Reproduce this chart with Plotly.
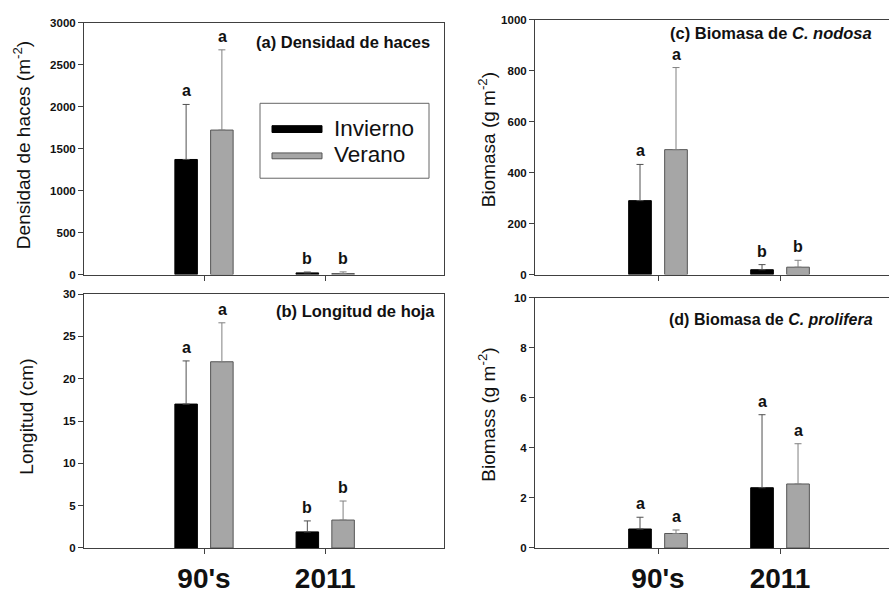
import plotly.graph_objects as go

W, H = 889, 594

categories = ["90's", "2011"]
series_names = ["Invierno", "Verano"]

# (a) Densidad de haces (m-2)
dens_inv = [1370, 20]
dens_inv_err = [655, 10]
dens_ver = [1720, 12]
dens_ver_err = [955, 20]
dens_letters_inv = ["a", "b"]
dens_letters_ver = ["a", "b"]

# (b) Longitud de hoja (cm)
long_inv = [17.0, 1.9]
long_inv_err = [5.1, 1.3]
long_ver = [22.0, 3.3]
long_ver_err = [4.6, 2.25]
long_letters_inv = ["a", "b"]
long_letters_ver = ["a", "b"]

# (c) Biomasa de C. nodosa (g m-2)
nod_inv = [290, 19]
nod_inv_err = [142, 20]
nod_ver = [490, 29]
nod_ver_err = [322, 27]
nod_letters_inv = ["a", "b"]
nod_letters_ver = ["a", "b"]

# (d) Biomasa de C. prolifera (g m-2)
pro_inv = [0.76, 2.41]
pro_inv_err = [0.47, 2.92]
pro_ver = [0.58, 2.56]
pro_ver_err = [0.14, 1.61]
pro_letters_inv = ["a", "a"]
pro_letters_ver = ["a", "a"]

FONT = "Liberation Sans, Arial, sans-serif"
BLACK = "#000000"
GRAY = "#a6a6a6"
AXC = "#404040"


def px(x):
    return x / W


def py(y):
    return 1 - y / H


fig = go.Figure()

panels = [
    ("x", "y", dens_inv, dens_inv_err, dens_ver, dens_ver_err, dens_letters_inv, dens_letters_ver),
    ("x2", "y2", long_inv, long_inv_err, long_ver, long_ver_err, long_letters_inv, long_letters_ver),
    ("x3", "y3", nod_inv, nod_inv_err, nod_ver, nod_ver_err, nod_letters_inv, nod_letters_ver),
    ("x4", "y4", pro_inv, pro_inv_err, pro_ver, pro_ver_err, pro_letters_inv, pro_letters_ver),
]

annotations = []
for xa, ya, vi, ei, vv, ev, li, lv in panels:
    fig.add_trace(go.Bar(
        x=categories, y=vi, name=series_names[0], xaxis=xa, yaxis=ya,
        marker=dict(color=BLACK, line=dict(color="#000000", width=1)),
        error_y=dict(type="data", array=ei, symmetric=False, arrayminus=[0] * len(ei),
                     color="#505050", thickness=1, width=3.5),
        showlegend=False, offsetgroup="inv",
    ))
    fig.add_trace(go.Bar(
        x=categories, y=vv, name=series_names[1], xaxis=xa, yaxis=ya,
        marker=dict(color=GRAY, line=dict(color="#555555", width=1)),
        error_y=dict(type="data", array=ev, symmetric=False, arrayminus=[0] * len(ev),
                     color="#808080", thickness=1, width=3.5),
        showlegend=False, offsetgroup="ver",
    ))
    for i, c in enumerate(categories):
        # category index i on the categorical axis
        annotations.append(dict(x=i, y=vi[i] + ei[i], xref=xa, yref=ya, text="<b>%s</b>" % li[i],
                                showarrow=False, xshift=-18, yshift=3, yanchor="bottom",
                                font=dict(family=FONT, size=16, color="#111")))
        annotations.append(dict(x=i, y=vv[i] + ev[i], xref=xa, yref=ya, text="<b>%s</b>" % lv[i],
                                showarrow=False, xshift=18, yshift=3, yanchor="bottom",
                                font=dict(family=FONT, size=16, color="#111")))

# panel titles
titles = [
    ("<b>(a) Densidad de haces</b>", 432, 37, 16.5),
    ("<b>(b) Longitud de hoja</b>", 437, 313, 16.5),
    ("<b>(c) Biomasa de <i>C. nodosa</i></b>", 874, 28, 16.5),
    ("<b>(d) Biomasa de <i>C. prolifera</i></b>", 875, 322, 16),
]
for t, xr, yc, s in titles:
    annotations.append(dict(x=px(xr), y=py(yc), xref="paper", yref="paper", text=t,
                            showarrow=False, xanchor="right", yanchor="middle",
                            font=dict(family=FONT, size=s, color="#111")))

# y-axis titles
ytitles = [
    ("Densidad de haces (m<sup>-2</sup>)", 22, 143),
    ("Longitud (cm)", 27, 422),
    ("Biomasa (g m<sup>-2</sup>)", 487, 138),
    ("Biomass (g m<sup>-2</sup>)", 487, 420),
]
for t, xc, yc in ytitles:
    annotations.append(dict(x=px(xc), y=py(yc), xref="paper", yref="paper", text=t,
                            showarrow=False, textangle=-90, xanchor="center", yanchor="middle",
                            font=dict(family=FONT, size=19, color="#111")))

# manual legend text
annotations.append(dict(x=px(332), y=py(126), xref="paper", yref="paper", text=series_names[0],
                        showarrow=False, xanchor="left", yanchor="middle",
                        font=dict(family=FONT, size=22.5, color="#111")))
annotations.append(dict(x=px(332), y=py(153), xref="paper", yref="paper", text=series_names[1],
                        showarrow=False, xanchor="left", yanchor="middle",
                        font=dict(family=FONT, size=22.5, color="#111")))

shapes = [
    dict(type="rect", xref="paper", yref="paper", x0=px(260), x1=px(429), y0=py(177), y1=py(100),
         line=dict(color="#666", width=1), fillcolor="white", layer="above"),
    dict(type="rect", xref="paper", yref="paper", x0=px(272), x1=px(322), y0=py(130), y1=py(123),
         line=dict(color="#000", width=1), fillcolor=BLACK, layer="above"),
    dict(type="rect", xref="paper", yref="paper", x0=px(272), x1=px(322), y0=py(157), y1=py(151),
         line=dict(color="#555", width=1), fillcolor=GRAY, layer="above"),
]


def xaxis(dom, rng, labels, mirror):
    return dict(domain=dom, range=rng, type="category", showline=True, linecolor=AXC, linewidth=1,
                mirror=mirror, ticks="outside", ticklen=5, tickcolor=AXC, showgrid=False, zeroline=False,
                showticklabels=labels, tickfont=dict(family=FONT, size=28, color="#111", weight="bold"),
                fixedrange=True)


def yaxis(dom, rng, dt, anchor, mirror):
    return dict(domain=dom, range=rng, dtick=dt, anchor=anchor, showline=True, linecolor=AXC, linewidth=1,
                mirror=mirror, ticks="outside", ticklen=5, tickcolor=AXC, showgrid=False, zeroline=False,
                tickfont=dict(family=FONT, size=11.5, color="#111", weight="bold"), fixedrange=True)


xl = [px(84), px(444)]
xr = [px(535), 1.0]
ya = [py(276), py(17)]
yb = [py(557), py(296)]
yc = [py(276), py(14)]
yd = [py(557), py(300)]

rl = [-0.99, 1.98]
rr = [-1.008, 1.893]

fig.update_layout(
    width=W, height=H, margin=dict(l=0, r=0, t=0, b=0),
    paper_bgcolor="white", plot_bgcolor="white",
    barmode="group", bargap=0.41, bargroupgap=0.37,
    font=dict(family=FONT, color="#111"),
    xaxis=xaxis(xl, rl, False, True) | dict(anchor="y"),
    yaxis=yaxis(ya, [0, 3000], 500, "x", True),
    xaxis2=xaxis(xl, rl, True, True) | dict(anchor="y2"),
    yaxis2=yaxis(yb, [0, 30], 5, "x2", True),
    xaxis3=xaxis(xr, rr, False, True) | dict(anchor="y3"),
    yaxis3=yaxis(yc, [0, 1000], 200, "x3", False),
    xaxis4=xaxis(xr, rr, True, True) | dict(anchor="y4"),
    yaxis4=yaxis(yd, [0, 10], 2, "x4", False),
    annotations=annotations,
    shapes=shapes,
    showlegend=False,
)

fig.write_html("out.html")
